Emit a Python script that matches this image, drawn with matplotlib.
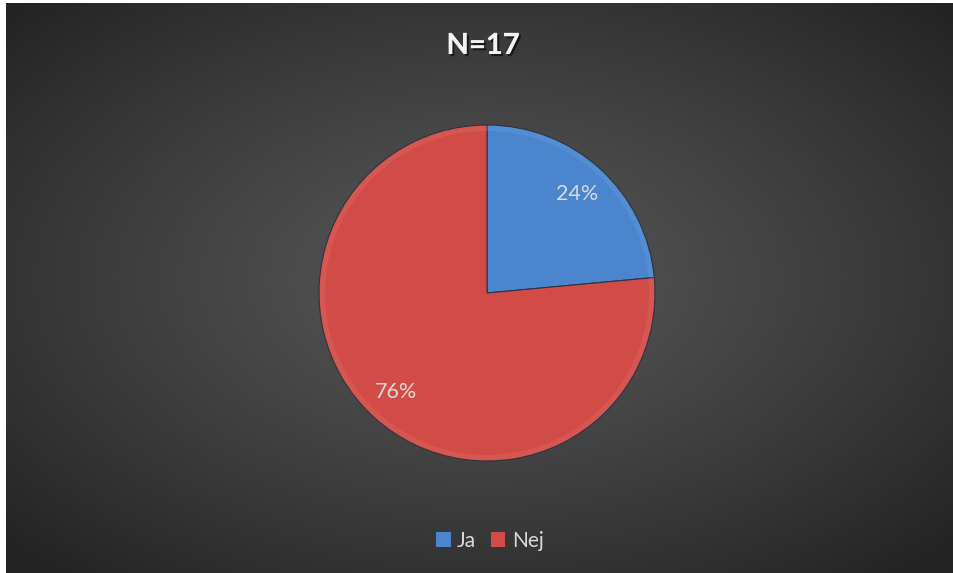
import numpy as np
import matplotlib.pyplot as plt
import matplotlib.patheffects as pe
from matplotlib.patches import Patch

# Data
labels = ['Ja', 'Nej']
counts = [4, 13]
title_text = 'N=17'
colors = ['#4A85CE', '#D24C47']
rim_colors = ['#8CB4EA', '#EC8C86']

plt.rcParams['font.family'] = ['Lato', 'DejaVu Sans']

W, H = 954, 573
fig = plt.figure(figsize=(W / 100, H / 100), dpi=100)
fig.patch.set_facecolor('white')

# Dark radial gradient background
bg = fig.add_axes([6 / W, 0, (W - 6) / W, (H - 3) / H])
yy, xx = np.mgrid[-1:1:300j, -1:1:500j]
rr = np.sqrt((xx * 0.95) ** 2 + ((yy + 0.03) * 0.95) ** 2)
shade = 0.34 - 0.2 * np.clip(rr / 1.3, 0, 1) ** 1.2
img = np.dstack([shade, shade, shade])
bg.imshow(img, aspect='auto', extent=[0, 1, 0, 1], interpolation='bilinear')
bg.set_axis_off()

# Pie axes: center (487, 293) px, radius 168 px
cx, cy, r = 487, 293, 168
ax = fig.add_axes([(cx - r) / W, (H - cy - r) / H, 2 * r / W, 2 * r / H])
wedges, texts, autotexts = ax.pie(
    counts, colors=colors, startangle=90, counterclock=False,
    autopct='%1.0f%%', pctdistance=0.80,
    wedgeprops=dict(edgecolor='#2E3440', linewidth=0.8),
    textprops=dict(color='#D9D9D9', fontsize=15.5))
# subtle bevel rim
ax.pie(counts, colors=rim_colors, startangle=90, counterclock=False,
       radius=0.995, wedgeprops=dict(width=0.03, alpha=0.18, linewidth=0))
ax.set_xlim(-1, 1)
ax.set_ylim(-1, 1)
ax.set_axis_off()

# Title
fig.text(483 / W, 1 - 46 / H, title_text, ha='center', va='center',
         color='#F2F2F2', fontsize=21, fontweight='bold',
         path_effects=[pe.withSimplePatchShadow(offset=(1.5, -1.5),
                                                shadow_rgbFace='black', alpha=0.6),
                       pe.Normal()])

# Legend
handles = [Patch(facecolor=c, edgecolor='none', label=l) for c, l in zip(colors, labels)]
leg = fig.legend(handles=handles, loc='center', bbox_to_anchor=(490 / W, 1 - 541 / H),
                 ncol=2, frameon=False, fontsize=15, handlelength=0.7,
                 handleheight=0.7, handletextpad=0.3, columnspacing=0.7,
                 labelcolor='#D9D9D9')

fig.savefig('out.png', dpi=100)
